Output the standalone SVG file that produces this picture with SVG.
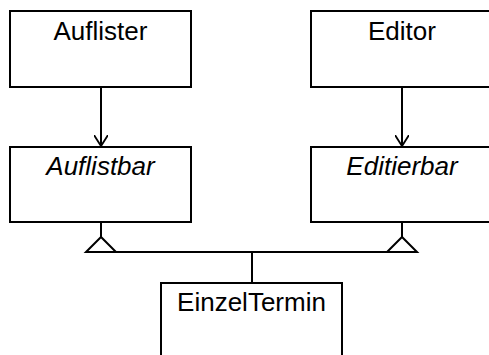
<svg xmlns="http://www.w3.org/2000/svg" width="489" height="355" viewBox="0 0 489 355">
<style>
.box{fill:#fff;stroke:#000;stroke-width:2}
.t{font-family:"Liberation Sans",Arial,sans-serif;font-size:26px;fill:#000;text-anchor:middle}
.i{font-style:italic}
.c{fill:none;stroke:#000;stroke-width:2}
.tri{fill:#fff;stroke:#000;stroke-width:2;stroke-linejoin:miter}
</style>
<defs>
<marker id="arr" markerWidth="14" markerHeight="14" refX="11" refY="7" orient="auto" markerUnits="userSpaceOnUse">
<path d="M0,0 L11,7 L0,14" fill="none" stroke="#000" stroke-width="1.8"/>
</marker>
</defs>
<g id="connectors">
<line class="c" x1="101" y1="87" x2="101" y2="146" marker-end="url(#arr)"/>
<line class="c" x1="402" y1="87" x2="402" y2="146" marker-end="url(#arr)"/>
<line class="c" x1="101" y1="222" x2="101" y2="237"/>
<line class="c" x1="402" y1="222" x2="402" y2="237"/>
<polygon class="tri" points="101,237 86,252 116,252"/>
<polygon class="tri" points="402,237 387,252 417,252"/>
<line class="c" x1="116" y1="252" x2="387" y2="252"/>
<line class="c" x1="252" y1="252" x2="252" y2="283"/>
</g>
<g id="Auflister">
<rect class="box" x="10" y="11" width="181" height="76"/>
<text class="t" x="100.5" y="40">Auflister</text>
</g>
<g id="Editor">
<rect class="box" x="311" y="11" width="181" height="76"/>
<text class="t" x="402" y="40">Editor</text>
</g>
<g id="Auflistbar">
<rect class="box" x="10" y="147" width="181" height="75"/>
<text class="t i" x="100.5" y="175">Auflistbar</text>
</g>
<g id="Editierbar">
<rect class="box" x="311" y="147" width="181" height="75"/>
<text class="t i" x="402" y="175">Editierbar</text>
</g>
<g id="EinzelTermin">
<rect class="box" x="161" y="283" width="181" height="80"/>
<text class="t" x="251.5" y="311">EinzelTermin</text>
</g>
</svg>
